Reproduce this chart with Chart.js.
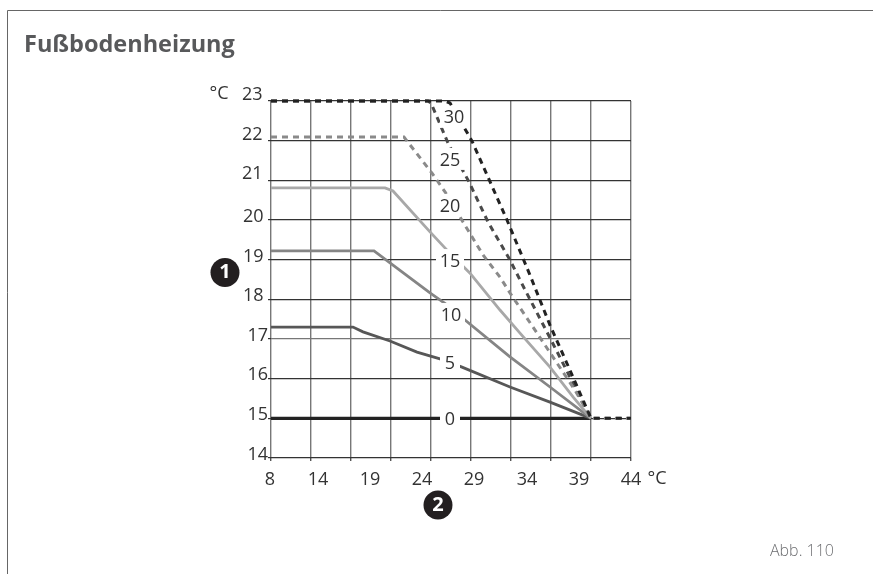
<!DOCTYPE html>
<html><head><meta charset="utf-8">
<style>html,body{margin:0;padding:0;background:#fff}canvas{display:block}</style>
<script src="https://cdn.jsdelivr.net/npm/chart.js@4"></script>
</head><body><canvas id="c" width="873" height="574"></canvas>
<script>
const xTickLabels = ["8","14","19","24","29","34","39","44"];
const xTickSlots = [7.9,12.7,17.9,23.1,28.3,33.6,38.8,44];
const yTicksLow = [14,15,16,17];
const yTicksMid = [18,19,20];
const yTicksTop = [21,22,23];
const curve30 = [[8,23],[25.4,23],[25.9,22.95],[28.1,21.99],[31.6,20],[33.9,18.61],[35.9,17.35],[38.2,16.04],[40,15],[44,15]];
const curve25 = [[8,23],[23.7,23],[24,22.95],[25.7,21.94],[27.8,20.96],[29.7,19.95],[31.9,18.99],[33.4,18.24],[35.9,17.03],[40,15]];
const curve20 = [[8,22.09],[21.3,22.09],[24.1,21.18],[25.4,20.71],[27.2,19.95],[29.2,19.12],[30.9,18.56],[31.9,18.16],[34.6,17.15],[38.4,15.71],[40,15],[44,15]];
const curve15 = [[8,20.81],[19.4,20.81],[20.2,20.73],[23.9,19.7],[25.6,19.24],[27.9,18.66],[30.9,17.73],[32.9,17.15],[35.9,16.29],[38.2,15.54],[40,15]];
const curve10 = [[8,19.22],[18.3,19.22],[19.9,18.92],[21.9,18.54],[23.9,18.16],[25.6,17.86],[27.4,17.48],[31.9,16.55],[35.9,15.79],[40,15]];
const curve5  = [[8,17.3],[16.2,17.3],[17.2,17.18],[19.9,16.95],[22.6,16.67],[24.9,16.5],[27.1,16.29],[31.9,15.79],[35.9,15.41],[40,15]];
const curve0  = [[8,15],[40,15]];
const curveLabels = [["30",26.3,22.6],["25",25.9,21.54],["20",25.9,20.38],["15",25.9,18.99],["10",26,17.63],["5",25.9,16.4],["0",25.9,15]];

const FONT = '"Open Sans", sans-serif';
const INK = '#333';
const toXY = a => a.map(p => ({x:p[0], y:p[1]}));
const dashed = (label,data,color) => ({label,data:toXY(data),borderColor:color,borderWidth:3,borderDash:[6,5],pointRadius:0,tension:0,clip:false,fill:false});
const solid = (label,data,color,w) => ({label,data:toXY(data),borderColor:color,borderWidth:w,pointRadius:0,tension:0,clip:false,fill:false});
const labelAxis = (values,padding,labelOffset) => ({
  type:'linear',min:14,max:23,position:'left',weight:0,
  border:{display:false},
  grid:{display:false,drawTicks:false,tickLength:0},
  afterBuildTicks(s){s.ticks=values.map(v=>({value:v}));},
  ticks:{color:INK,autoSkip:false,mirror:true,padding,labelOffset,font:{family:FONT,size:18},callback:v=>''+v},
  afterFit(s){s.width=0;}
});

const decor = {
  id:'decor',
  beforeDraw(ch){
    const c = ch.ctx; c.save();
    c.strokeStyle='#666'; c.lineWidth=1;
    c.beginPath(); c.moveTo(7.5,574); c.lineTo(7.5,10.5); c.lineTo(873,10.5); c.stroke();
    c.restore();
  },
  afterDraw(ch){
    const c = ch.ctx, xs = ch.scales.x, ys = ch.scales.y;
    c.save();
    c.textAlign='center'; c.textBaseline='middle';
    c.font='18px '+FONT;
    curveLabels.forEach(([t,x,y])=>{
      const px=xs.getPixelForValue(x), py=ys.getPixelForValue(y);
      const w=t.length>1?14:10;
      c.fillStyle='#fff'; c.fillRect(px-w,py-11,w*2,22);
      c.fillStyle=INK; c.fillText(t,px,py+1.5);
    });
    c.fillStyle=INK;
    c.fillText('°C',219,94);
    c.fillText('°C',657,479);
    [['1',225,272.5],['2',438,505]].forEach(([t,x,y])=>{
      c.fillStyle='#231f20'; c.beginPath(); c.arc(x,y,14.5,0,Math.PI*2); c.fill();
      c.fillStyle='#fff'; c.font='bold 20px '+FONT; c.fillText(t,x,y);
    });
    c.fillStyle='#6d6e71'; c.font='300 16px '+FONT; c.textAlign='right';
    c.fillText('Abb. 110',834,551);
    c.restore();
  }
};

new Chart(document.getElementById('c'),{
  type:'line',
  data:{datasets:[
    dashed('30',curve30,'#222'),
    dashed('20',curve20,'#8a8a8a'),
    dashed('25',curve25,'#4a4a4a'),
    solid('15',curve15,'#a8a8a8',2.8),
    solid('10',curve10,'#858585',2.8),
    solid('5',curve5,'#575757',2.8),
    solid('0',curve0,'#222',3.2)
  ]},
  options:{
    responsive:false,animation:false,
    layout:{padding:{left:24,right:242,top:31,bottom:0}},
    plugins:{
      legend:{display:false},tooltip:{enabled:false},
      title:{display:true,text:'Fußbodenheizung',align:'start',color:'#58595b',
        font:{family:FONT,size:23.5,weight:'bold'},padding:{top:0,bottom:41.8}}
    },
    scales:{
      x:{type:'linear',min:8,max:44,position:'bottom',
        border:{display:false},
        grid:{color:'#777',lineWidth:1.4,tickLength:3,tickColor:'#555',drawTicks:true},
        ticks:{stepSize:4,callback:()=>'',autoSkip:false,maxRotation:0,padding:0},
        afterFit(s){s.height=3;}},
      x2:{type:'linear',min:8,max:44,position:'bottom',
        border:{display:false},
        grid:{display:false,drawTicks:false,tickLength:0},
        afterBuildTicks(s){s.ticks=xTickSlots.map(v=>({value:v}));},
        ticks:{color:INK,autoSkip:false,maxRotation:0,padding:8,font:{family:FONT,size:18},
          callback:(v,i)=>xTickLabels[i]},
        afterFit(s){s.height=113;}},
      y:{type:'linear',min:14,max:23,position:'left',weight:5,
        border:{display:false},
        grid:{color:c=>c.tick&&c.tick.value===17?'#777':'#333',lineWidth:1.2,tickLength:3,tickColor:'#333'},
        ticks:{stepSize:1,color:INK,labelOffset:-3.5,padding:0,font:{family:FONT,size:18},
          callback:v=>yTicksLow.includes(v)?''+v:''},
        afterFit(s){s.width=247;}},
      yMid:labelAxis(yTicksMid,-28,-3),
      yTop:labelAxis(yTicksTop,-29,-6)
    }
  },
  plugins:[decor]
});
</script></body></html>
